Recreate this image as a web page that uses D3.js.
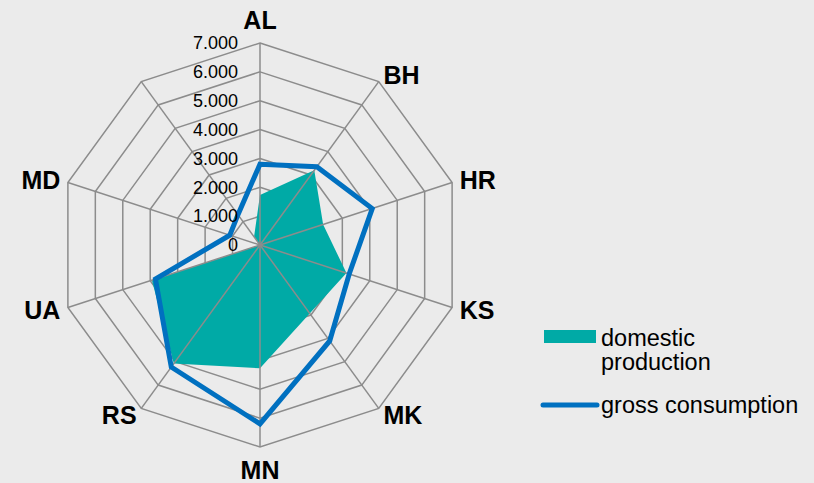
<!DOCTYPE html>
<html>
<head>
<meta charset="utf-8">
<script src="https://cdn.jsdelivr.net/npm/d3@7"></script>
<style>
  body { margin:0; background:#ebebeb; }
  svg { display:block; font-family:"Liberation Sans", Arial, sans-serif; }
  .ring { fill:none; stroke:#8c8c8c; stroke-width:1.5; }
  .spoke { stroke:#8c8c8c; stroke-width:1.5; }
</style>
</head>
<body>
<div id="chart"></div>
<script>
const svgWidth = 814;
const svgHeight = 483;
const cx = 260, cy = 245, radius = 202;

// chart data
const categories = ["AL","BH","HR","KS","MK","MN","RS","UA","MD",""];
const domestic = [1730, 3200, 2300, 3150, 2930, 4270, 5080, 3940, 0, 350];
const gross = [2800, 3350, 4090, 3250, 4110, 6200, 5230, 3810, 1100, 1300];
const ticks = [0, 1000, 2000, 3000, 4000, 5000, 6000, 7000];
const seriesNames = ["domestic\nproduction", "gross consumption"];

const teal = "#00aaa6";
const blue = "#0070c0";

const fmt = d3.formatLocale({decimal:",", thousands:".", grouping:[3], currency:["",""]}).format(",.0f");

const svg = d3.select("#chart")
    .append("svg")
    .attr("width", svgWidth)
    .attr("height", svgHeight);

svg.append("rect").attr("width", svgWidth).attr("height", svgHeight).attr("fill", "#ebebeb");

const g = svg.append("g").attr("transform", "translate(" + cx + "," + cy + ")");

const rscale = d3.scaleLinear().domain([0, 7000]).range([0, radius]);
const ascale = d3.scaleLinear().domain([0, categories.length]).range([0, 2 * Math.PI]);

function pt(i, v) {
    const a = ascale(i);
    return [Math.sin(a) * rscale(v), -Math.cos(a) * rscale(v)];
}

const closed = d3.line().curve(d3.curveLinearClosed);

// rings
g.selectAll(".ring")
    .data(ticks.slice(1))
    .enter()
    .append("path")
    .attr("class", "ring")
    .attr("d", d => closed(categories.map((c, i) => pt(i, d))));

// domestic production area
g.append("path")
    .attr("d", closed(domestic.map((v, i) => pt(i, v))))
    .attr("fill", teal);

// spokes
g.selectAll(".spoke")
    .data(categories)
    .enter()
    .append("line")
    .attr("class", "spoke")
    .attr("x1", 0).attr("y1", 0)
    .attr("x2", (d, i) => pt(i, 7000)[0])
    .attr("y2", (d, i) => pt(i, 7000)[1]);

// gross consumption line
g.append("path")
    .attr("d", closed(gross.map((v, i) => pt(i, v))))
    .attr("fill", "none")
    .attr("stroke", blue)
    .attr("stroke-width", 5);

// tick labels
g.selectAll(".tick")
    .data(ticks)
    .enter()
    .append("text")
    .attr("x", -22)
    .attr("y", d => -rscale(d))
    .attr("dy", "0.35em")
    .attr("text-anchor", "end")
    .attr("font-size", 18)
    .attr("fill", "#000")
    .text(d => fmt(d));

// category labels
g.selectAll(".cat")
    .data(categories)
    .enter()
    .append("text")
    .attr("x", (d, i) => {
        const a = ascale(i);
        const r = Math.abs(Math.sin(a)) < 0.01 ? 225 : 210;
        return Math.sin(a) * r;
    })
    .attr("y", (d, i) => {
        const a = ascale(i);
        const r = Math.abs(Math.sin(a)) < 0.01 ? 225 : 210;
        return -Math.cos(a) * r;
    })
    .attr("dy", "0.35em")
    .attr("text-anchor", (d, i) => {
        const s = Math.sin(ascale(i));
        return Math.abs(s) < 0.01 ? "middle" : (s > 0 ? "start" : "end");
    })
    .attr("font-size", 25)
    .attr("font-weight", "bold")
    .text(d => d);

// legend
const legend = svg.append("g");
legend.append("rect")
    .attr("x", 544).attr("y", 330)
    .attr("width", 52).attr("height", 13)
    .attr("fill", teal);
const t1 = legend.append("text")
    .attr("x", 601).attr("y", 346)
    .attr("font-size", 23.5);
seriesNames[0].split("\n").forEach((s, i) => {
    t1.append("tspan").attr("x", 601).attr("dy", i === 0 ? 0 : 24).text(s);
});
legend.append("line")
    .attr("x1", 543).attr("x2", 597)
    .attr("y1", 405).attr("y2", 405)
    .attr("stroke", blue)
    .attr("stroke-width", 5)
    .attr("stroke-linecap", "round");
legend.append("text")
    .attr("x", 601).attr("y", 413)
    .attr("font-size", 23.5)
    .text(seriesNames[1]);
</script>
</body>
</html>
